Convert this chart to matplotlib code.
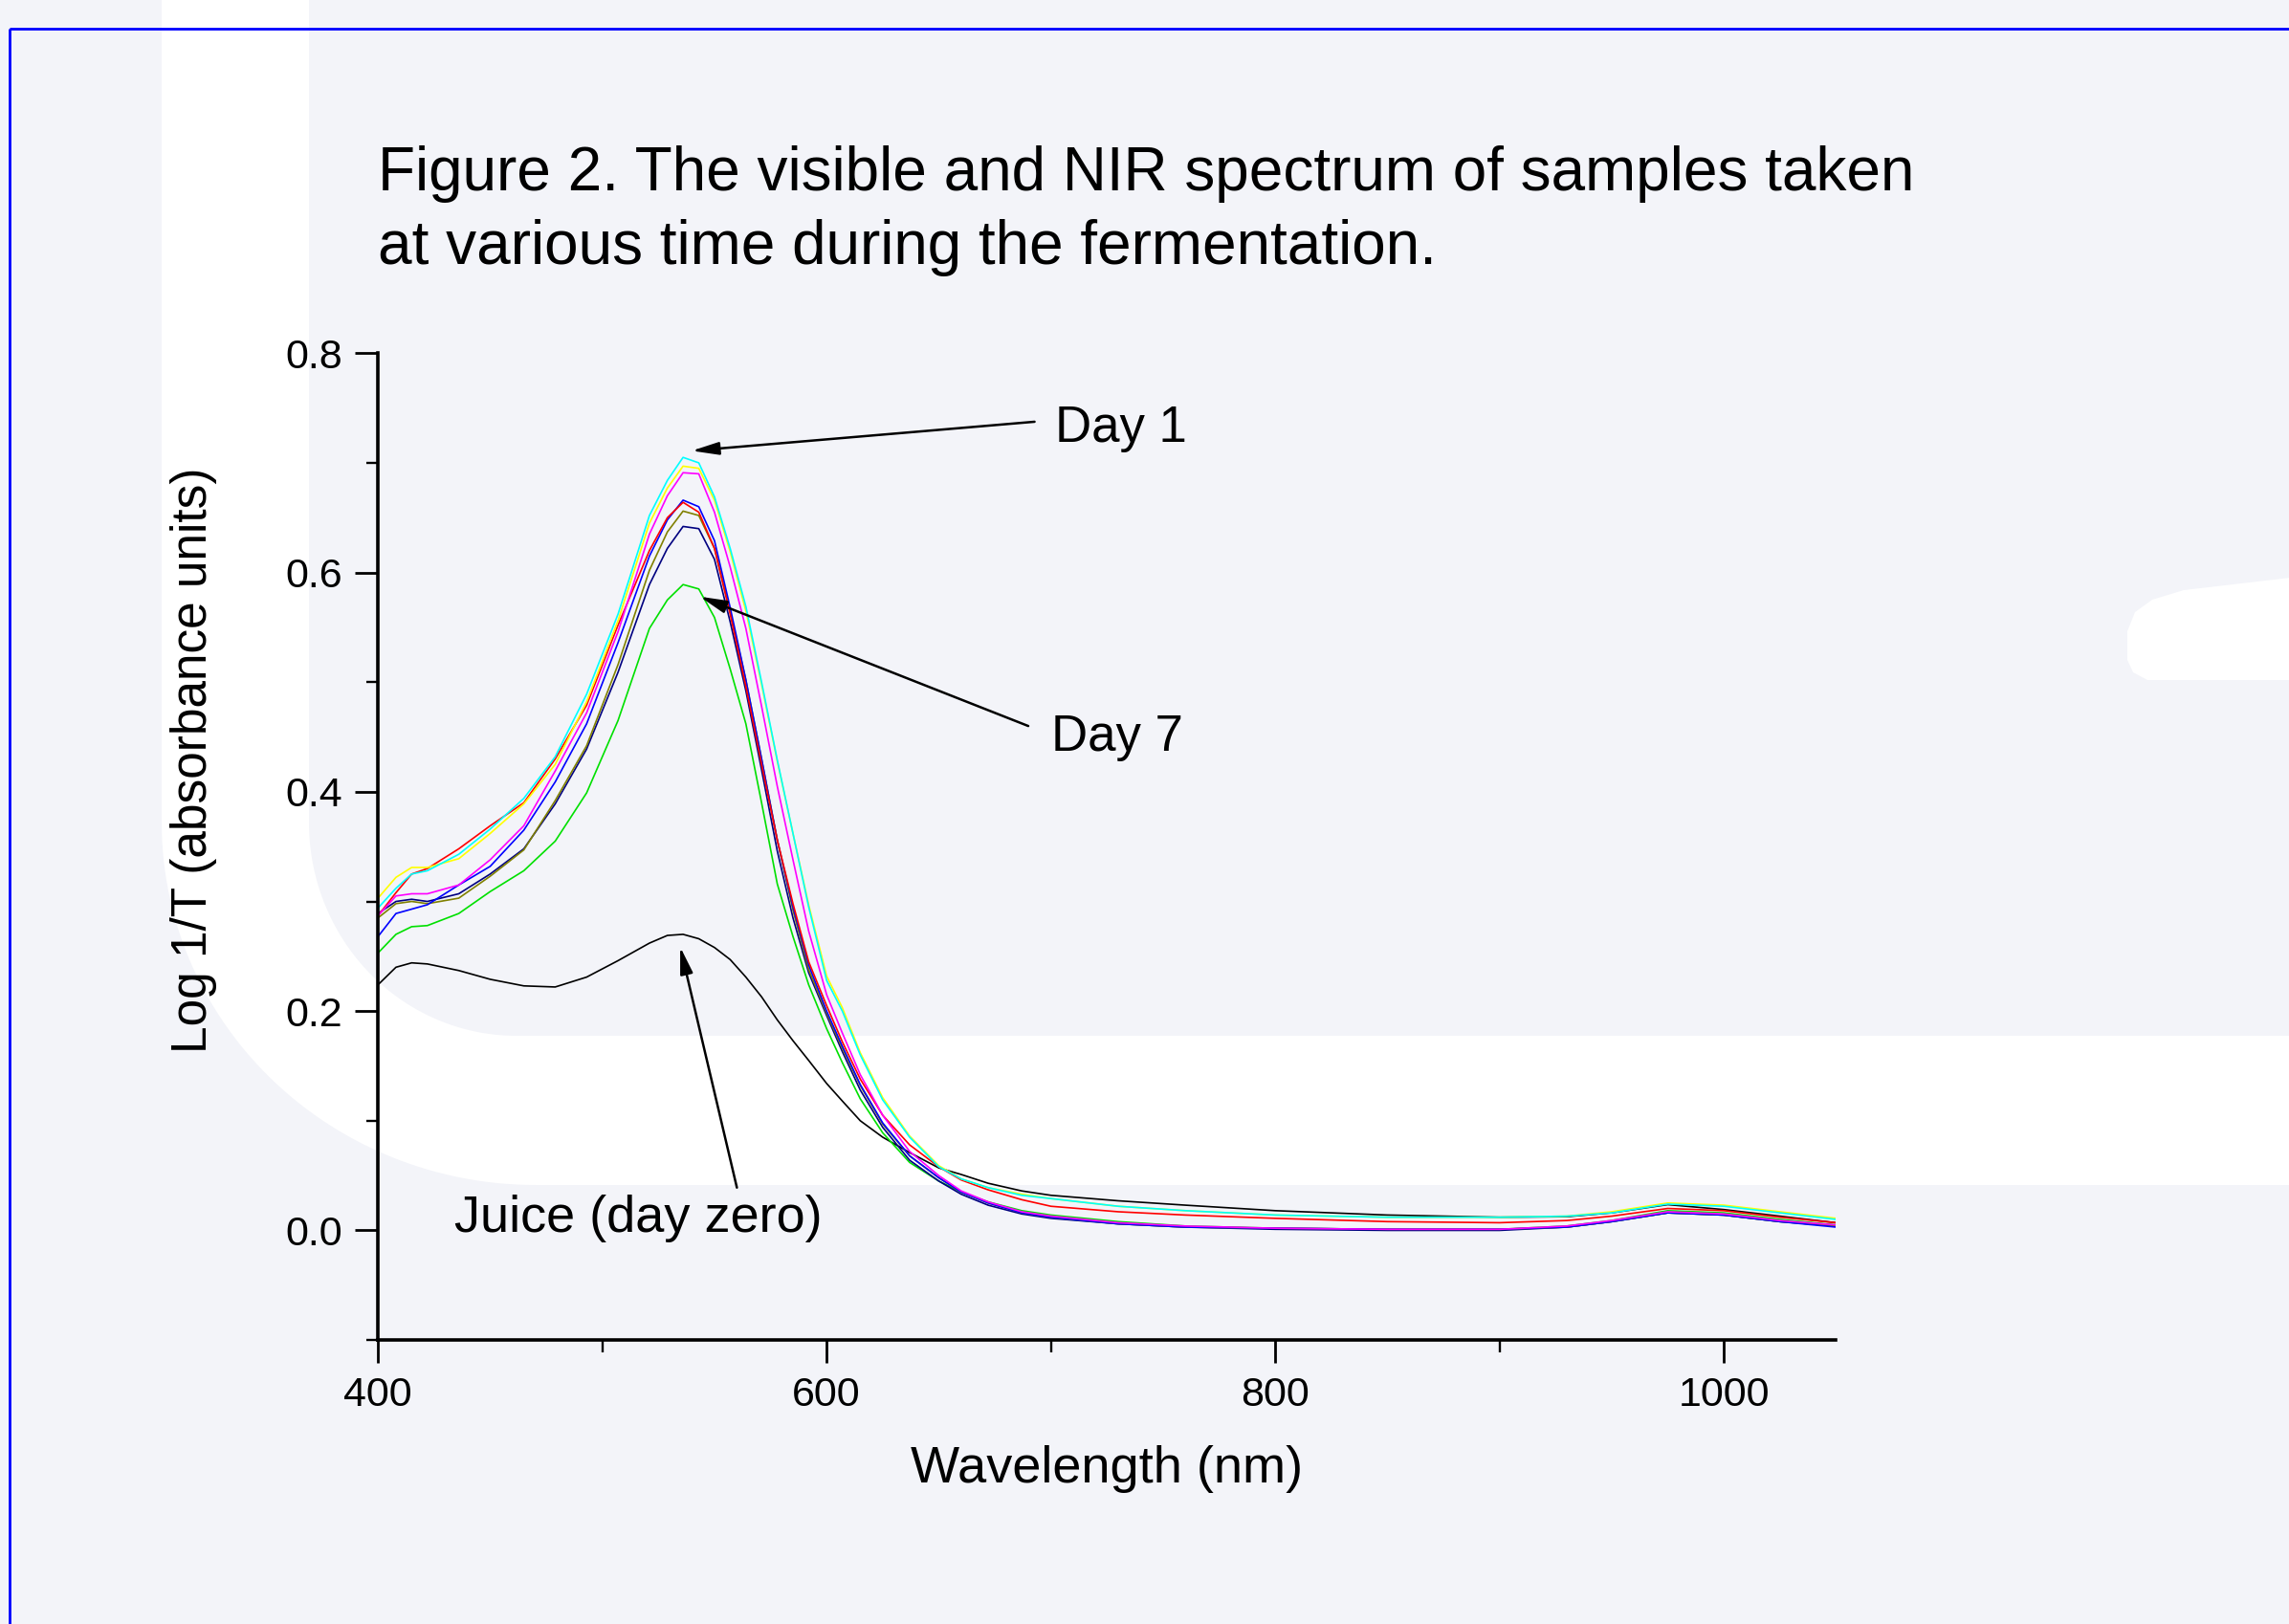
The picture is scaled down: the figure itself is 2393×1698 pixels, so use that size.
import numpy as np
import matplotlib
matplotlib.use("Agg")
import matplotlib.pyplot as plt
from matplotlib.patches import Polygon, Rectangle
from matplotlib.ticker import MultipleLocator, FormatStrFormatter

plt.rcParams['font.family'] = ['Liberation Sans', 'DejaVu Sans']

# wavelength grid (nm)
wavelength = [400, 408, 415, 422, 436, 450, 465, 479, 493, 507, 521, 529, 536, 543,
              550, 557, 564, 571, 578, 585, 592, 600, 607, 615, 625, 637, 650, 660,
              672, 687, 700, 730, 760, 800, 850, 900, 930, 950, 975, 1000, 1025, 1050]

# absorbance of each sample (Log 1/T)
juice = [0.224, 0.240, 0.244, 0.243, 0.237, 0.229, 0.223, 0.222, 0.231, 0.246, 0.262, 0.269, 0.270, 0.266,
         0.258, 0.247, 0.231, 0.213, 0.192, 0.173, 0.155, 0.134, 0.118, 0.100, 0.085, 0.071, 0.057, 0.051,
         0.043, 0.036, 0.032, 0.027, 0.023, 0.018, 0.014, 0.012, 0.0125, 0.016, 0.0235, 0.019, 0.013, 0.007]
green = [0.253, 0.270, 0.277, 0.278, 0.289, 0.309, 0.328, 0.355, 0.399, 0.465, 0.549, 0.575, 0.589, 0.585,
         0.559, 0.512, 0.462, 0.390, 0.316, 0.268, 0.224, 0.184, 0.153, 0.120, 0.089, 0.062, 0.045, 0.035,
         0.026, 0.018, 0.014, 0.008, 0.004, 0.002, 0.001, 0.001, 0.004, 0.009, 0.018, 0.016, 0.010, 0.005]
navy = [0.289, 0.300, 0.302, 0.300, 0.307, 0.325, 0.348, 0.389, 0.439, 0.509, 0.589, 0.622, 0.642, 0.640,
        0.612, 0.555, 0.492, 0.420, 0.346, 0.285, 0.235, 0.196, 0.163, 0.128, 0.094, 0.064, 0.045, 0.033,
        0.023, 0.015, 0.011, 0.006, 0.003, 0.001, 0.000, 0.000, 0.003, 0.008, 0.016, 0.014, 0.008, 0.004]
olive = [0.285, 0.298, 0.300, 0.298, 0.303, 0.323, 0.347, 0.392, 0.442, 0.516, 0.602, 0.637, 0.656, 0.652,
         0.622, 0.565, 0.502, 0.430, 0.356, 0.292, 0.238, 0.198, 0.166, 0.132, 0.097, 0.068, 0.048, 0.035,
         0.025, 0.016, 0.012, 0.006, 0.003, 0.002, 0.001, 0.001, 0.003, 0.008, 0.016, 0.014, 0.008, 0.004]
blue = [0.268, 0.289, 0.293, 0.297, 0.315, 0.332, 0.365, 0.409, 0.462, 0.536, 0.615, 0.648, 0.666, 0.660,
        0.629, 0.568, 0.502, 0.430, 0.356, 0.295, 0.242, 0.200, 0.168, 0.133, 0.098, 0.068, 0.048, 0.035,
        0.025, 0.016, 0.012, 0.006, 0.003, 0.002, 0.001, 0.001, 0.003, 0.008, 0.016, 0.014, 0.008, 0.003]
red = [0.287, 0.308, 0.325, 0.330, 0.348, 0.369, 0.390, 0.430, 0.479, 0.552, 0.620, 0.650, 0.664, 0.655,
       0.622, 0.562, 0.496, 0.425, 0.356, 0.298, 0.245, 0.205, 0.172, 0.138, 0.105, 0.078, 0.058, 0.046,
       0.037, 0.028, 0.022, 0.017, 0.014, 0.011, 0.008, 0.007, 0.009, 0.013, 0.020, 0.018, 0.012, 0.007]
magenta = [0.287, 0.305, 0.307, 0.307, 0.315, 0.338, 0.369, 0.419, 0.472, 0.546, 0.635, 0.670, 0.691, 0.690,
           0.655, 0.605, 0.549, 0.478, 0.405, 0.338, 0.273, 0.215, 0.180, 0.142, 0.105, 0.072, 0.050, 0.036,
           0.026, 0.017, 0.013, 0.007, 0.004, 0.002, 0.001, 0.001, 0.004, 0.009, 0.017, 0.015, 0.009, 0.005]
yellow = [0.303, 0.322, 0.331, 0.331, 0.339, 0.362, 0.389, 0.425, 0.482, 0.556, 0.645, 0.677, 0.697, 0.695,
          0.666, 0.619, 0.565, 0.498, 0.428, 0.362, 0.297, 0.232, 0.203, 0.162, 0.121, 0.086, 0.059, 0.047,
          0.039, 0.033, 0.029, 0.022, 0.018, 0.014, 0.012, 0.012, 0.013, 0.017, 0.025, 0.023, 0.017, 0.011]
cyan = [0.294, 0.312, 0.325, 0.328, 0.343, 0.366, 0.394, 0.432, 0.489, 0.562, 0.652, 0.684, 0.705, 0.700,
        0.669, 0.622, 0.569, 0.500, 0.429, 0.362, 0.295, 0.228, 0.200, 0.160, 0.119, 0.085, 0.058, 0.047,
        0.039, 0.032, 0.029, 0.022, 0.018, 0.014, 0.012, 0.012, 0.013, 0.016, 0.024, 0.022, 0.016, 0.010]

spectra = [(juice, 'black'), (green, '#00E000'), (navy, '#000080'), (olive, '#808000'),
           (blue, '#0000FF'), (red, '#FF0000'), (magenta, '#FF00FF'), (yellow, '#FFFF00'),
           (cyan, '#00FFFF')]

W, H = 2393, 1698
fig = plt.figure(figsize=(W / 100, H / 100), dpi=100)
fig.patch.set_facecolor('#F3F4F9')

# background decoration, drawn in pixel coordinates
bg = fig.add_axes([0, 0, 1, 1], zorder=0)
bg.set_xlim(0, W)
bg.set_ylim(H, 0)
bg.axis('off')
t = np.linspace(0, np.pi / 2, 60)
inner = np.column_stack([540 - 217 * np.cos(t), 860 + 223 * np.sin(t)])
outer = np.column_stack([560 - 391 * np.cos(t), 860 + 379 * np.sin(t)])[::-1]
shape = np.vstack([[[169, -5], [323, -5]], inner, [[W + 10, 1083], [W + 10, 1239]], outer])
bg.add_patch(Polygon(shape, closed=True, facecolor='white', edgecolor='none'))
bar = [(W + 10, 603), (2283, 617), (2250, 627), (2232, 640), (2224, 660), (2224, 690),
       (2230, 703), (2245, 711), (W + 10, 711)]
bg.add_patch(Polygon(bar, closed=True, facecolor='white', edgecolor='none'))
bg.add_patch(Rectangle((10, 30), W + 100, H + 100, fill=False, edgecolor='#0000FF', lw=2.0))

# main plot
ax = fig.add_axes([395.2 / W, 1 - 1401.1 / H, 1524.2 / W, 1031.8 / H], zorder=1)
ax.set_facecolor('none')
for y, c in spectra:
    ax.plot(wavelength, y, color=c, lw=1.2)

ax.set_xlim(400, 1050)
ax.set_ylim(-0.1, 0.8)
ax.spines['top'].set_visible(False)
ax.spines['right'].set_visible(False)
ax.spines['left'].set_linewidth(2.6)
ax.spines['bottom'].set_linewidth(2.6)
ax.xaxis.set_major_locator(MultipleLocator(200))
ax.xaxis.set_minor_locator(MultipleLocator(100))
ax.yaxis.set_major_locator(MultipleLocator(0.2))
ax.yaxis.set_minor_locator(MultipleLocator(0.1))
ax.yaxis.set_major_formatter(FormatStrFormatter('%.1f'))
ax.tick_params(which='major', length=17, width=2.0, labelsize=31, pad=10)
ax.tick_params(which='minor', length=9, width=1.7)

# annotations
arrow = dict(arrowstyle='-|>,head_length=1.7,head_width=0.4', color='black', lw=1.8,
             mutation_scale=10, shrinkA=0, shrinkB=0)
ax.annotate('', xy=(539.9, 0.711), xytext=(692.7, 0.7375), arrowprops=arrow)
ax.text(701.8, 0.731, 'Day 1', fontsize=38, ha='left', va='center')
ax.annotate('', xy=(543.5, 0.578), xytext=(689.9, 0.460), arrowprops=arrow)
ax.text(700.2, 0.450, 'Day 7', fontsize=38, ha='left', va='center')
ax.annotate('', xy=(534.7, 0.2586), xytext=(560.0, 0.039), arrowprops=arrow)
ax.text(434.2, 0.011, 'Juice (day zero)', fontsize=39, ha='left', va='center')

fig.text(395 / W, 1 - 199 / H, 'Figure 2. The visible and NIR spectrum of samples taken',
         fontsize=46, ha='left', va='baseline')
fig.text(395 / W, 1 - 276 / H, 'at various time during the fermentation.',
         fontsize=46, ha='left', va='baseline')
fig.text(1157 / W, 1 - 1550 / H, 'Wavelength (nm)', fontsize=39, ha='center', va='baseline')
fig.text(203 / W, 1 - 795 / H, 'Log 1/T (absorbance units)', fontsize=37, rotation=90,
         ha='center', va='center')

fig.savefig('out.png', dpi=100, facecolor=fig.get_facecolor())
